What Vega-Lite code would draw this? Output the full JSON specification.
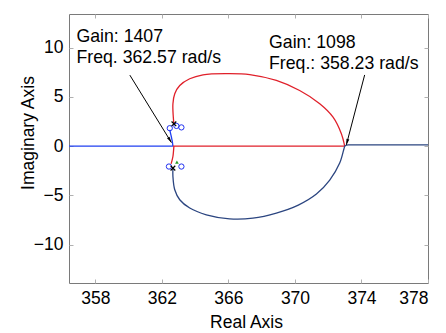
{
  "$schema": "https://vega.github.io/schema/vega-lite/v6.json",
  "width": 359,
  "height": 269,
  "autosize": "none",
  "padding": {"left": 69, "top": 14, "right": 18, "bottom": 50},
  "background": "white",
  "config": {
    "view": {"stroke": "#7a7a7a", "strokeWidth": 1},
    "font": "Liberation Sans"
  },
  "datasets": {
    "locus": [
      {"branch": "b1", "i": 0, "x": 356.41, "y": 0},
      {"branch": "b1", "i": 1, "x": 362.66, "y": 0},

      {"branch": "b2", "i": 0, "x": 362.66, "y": 0},
      {"branch": "b2", "i": 1, "x": 362.62, "y": 0.5},
      {"branch": "b2", "i": 2, "x": 362.57, "y": 0.9},
      {"branch": "b2", "i": 3, "x": 362.51, "y": 1.35},
      {"branch": "b2", "i": 4, "x": 362.47, "y": 1.65},

      {"branch": "r1", "i": 0, "x": 362.66, "y": 0},
      {"branch": "r1", "i": 1, "x": 372.99, "y": 0},

      {"branch": "r2", "i": 0, "x": 362.72, "y": 0},
      {"branch": "r2", "i": 1, "x": 362.69, "y": -0.6},
      {"branch": "r2", "i": 2, "x": 362.66, "y": -1.05},
      {"branch": "r2", "i": 3, "x": 362.6, "y": -1.5},
      {"branch": "r2", "i": 4, "x": 362.55, "y": -1.8},

      {"branch": "r3", "i": 0, "x": 362.72, "y": 2.26},
      {"branch": "r3", "i": 1, "x": 362.68, "y": 3.0},
      {"branch": "r3", "i": 2, "x": 362.66, "y": 4.3},
      {"branch": "r3", "i": 3, "x": 362.77, "y": 5.31},
      {"branch": "r3", "i": 4, "x": 363.07, "y": 6.15},
      {"branch": "r3", "i": 5, "x": 363.67, "y": 6.83},
      {"branch": "r3", "i": 6, "x": 364.47, "y": 7.23},
      {"branch": "r3", "i": 7, "x": 365.87, "y": 7.35},
      {"branch": "r3", "i": 8, "x": 367.28, "y": 7.26},
      {"branch": "r3", "i": 9, "x": 368.88, "y": 6.66},
      {"branch": "r3", "i": 10, "x": 370.28, "y": 5.64},
      {"branch": "r3", "i": 11, "x": 371.49, "y": 4.3},
      {"branch": "r3", "i": 12, "x": 372.29, "y": 2.94},
      {"branch": "r3", "i": 13, "x": 372.79, "y": 1.26},
      {"branch": "r3", "i": 14, "x": 372.99, "y": 0},

      {"branch": "n1", "i": 0, "x": 362.66, "y": -2.23},
      {"branch": "n1", "i": 1, "x": 362.66, "y": -3.08},
      {"branch": "n1", "i": 2, "x": 362.77, "y": -4.43},
      {"branch": "n1", "i": 3, "x": 363.07, "y": -5.44},
      {"branch": "n1", "i": 4, "x": 363.67, "y": -6.28},
      {"branch": "n1", "i": 5, "x": 364.67, "y": -6.96},
      {"branch": "n1", "i": 6, "x": 366.07, "y": -7.37},
      {"branch": "n1", "i": 7, "x": 367.47, "y": -7.3},
      {"branch": "n1", "i": 8, "x": 368.88, "y": -6.79},
      {"branch": "n1", "i": 9, "x": 370.2, "y": -5.98},
      {"branch": "n1", "i": 10, "x": 371.29, "y": -4.86},
      {"branch": "n1", "i": 11, "x": 372.09, "y": -3.45},
      {"branch": "n1", "i": 12, "x": 372.69, "y": -1.72},
      {"branch": "n1", "i": 13, "x": 372.93, "y": -0.37},
      {"branch": "n1", "i": 14, "x": 372.99, "y": 0},

      {"branch": "n2", "i": 0, "x": 372.99, "y": 0},
      {"branch": "n2", "i": 1, "x": 373.1, "y": 0.1},
      {"branch": "n2", "i": 2, "x": 373.25, "y": 0.12},
      {"branch": "n2", "i": 3, "x": 373.6, "y": 0.12},
      {"branch": "n2", "i": 4, "x": 378, "y": 0.12}
    ],
    "zeros": [
      {"x": 362.47, "y": 1.82},
      {"x": 362.87, "y": 2.05},
      {"x": 363.17, "y": 1.9},
      {"x": 362.42, "y": -2.07},
      {"x": 363.17, "y": -2.07}
    ],
    "poles": [
      {"x": 362.72, "y": 2.26},
      {"x": 362.66, "y": -2.23}
    ],
    "marks": [
      {"x": 362.9, "y": -1.62}
    ],
    "notes": [
      {"x": 356.86, "y": 10.6, "text": "Gain: 1407"},
      {"x": 356.86, "y": 8.41, "text": "Freq. 362.57 rad/s"},
      {"x": 368.44, "y": 9.93, "text": "Gain: 1098"},
      {"x": 368.44, "y": 7.8, "text": "Freq.: 358.23 rad/s"}
    ],
    "arrows": [
      {"id": "left", "x": 360.07, "y": 7.2, "x2": 362.57, "y2": 0.36},
      {"id": "right", "x": 374.19, "y": 7.22, "x2": 373.09, "y2": 0.13}
    ]
  },
  "resolve": {"axis": {"x": "independent", "y": "independent"}},
  "layer": [
    {
      "data": {"name": "locus"},
      "mark": {"type": "line", "strokeWidth": 1.3, "clip": true, "interpolate": "catmull-rom"},
      "encoding": {
        "x": {
          "field": "x", "type": "quantitative",
          "scale": {"domain": [356.41, 378], "nice": false, "zero": false},
          "axis": {
            "orient": "bottom",
            "values": [358, 362, 366, 370, 374, 378],
            "domain": false, "grid": false,
            "tickSize": -4, "tickColor": "#b0b0b0", "tickWidth": 1,
            "labelPadding": 10, "labelFontSize": 17.5, "labelColor": "#000",
            "labelFont": "Liberation Sans",
            "title": "Real Axis", "titleFontSize": 17.5, "titleFontWeight": "normal",
            "titleColor": "#000", "titleFont": "Liberation Sans",
            "titleX": 177, "titleY": 44, "titleBaseline": "alphabetic", "titleAlign": "center"
          }
        },
        "y": {
          "field": "y", "type": "quantitative",
          "scale": {"domain": [-13.88, 13.4], "nice": false, "zero": false},
          "axis": {
            "orient": "left",
            "values": [-10, -5, 0, 5, 10],
            "domain": false, "grid": false,
            "tickSize": -4, "tickColor": "#b0b0b0", "tickWidth": 1,
            "labelPadding": 10, "labelFontSize": 17.5, "labelColor": "#000",
            "labelFont": "Liberation Sans",
            "title": "Imaginary Axis", "titleFontSize": 17.5, "titleFontWeight": "normal",
            "titleColor": "#000", "titleFont": "Liberation Sans",
            "titleAngle": -90, "titleX": -36, "titleY": 118.5,
            "titleBaseline": "alphabetic", "titleAlign": "center"
          }
        },
        "order": {"field": "i", "type": "quantitative"},
        "color": {
          "field": "branch", "type": "nominal", "legend": null,
          "scale": {
            "domain": ["b1", "b2", "r1", "r2", "r3", "n1", "n2"],
            "range": ["#1f3ff0", "#1f3ff0", "#e0202a", "#e0202a", "#e0202a", "#2b4580", "#2b4580"]
          }
        }
      }
    },
    {
      "data": {"name": "arrows"},
      "mark": {"type": "rule", "color": "#000", "strokeWidth": 1},
      "encoding": {
        "x": {
          "field": "x", "type": "quantitative",
          "axis": {
            "orient": "top", "values": [358, 362, 366, 370, 374, 378],
            "labels": false, "domain": false, "grid": false, "title": null,
            "tickSize": -4, "tickColor": "#b0b0b0"
          }
        },
        "y": {
          "field": "y", "type": "quantitative",
          "axis": {
            "orient": "right", "values": [-10, -5, 0, 5, 10],
            "labels": false, "domain": false, "grid": false, "title": null,
            "tickSize": -4, "tickColor": "#b0b0b0"
          }
        },
        "x2": {"field": "x2"},
        "y2": {"field": "y2"}
      }
    },
    {
      "data": {"name": "arrows"},
      "transform": [{"filter": "datum.id === 'left'"}],
      "mark": {"type": "point", "shape": "M0,0L0.55,2.2L-0.55,2.2Z", "filled": true, "color": "#000", "size": 30, "opacity": 1, "angle": 148.4},
      "encoding": {
        "x": {"field": "x2", "type": "quantitative", "axis": null},
        "y": {"field": "y2", "type": "quantitative", "axis": null}
      }
    },
    {
      "data": {"name": "arrows"},
      "transform": [{"filter": "datum.id === 'right'"}],
      "mark": {"type": "point", "shape": "M0,0L0.55,2.2L-0.55,2.2Z", "filled": true, "color": "#000", "size": 30, "opacity": 1, "angle": 194.7},
      "encoding": {
        "x": {"field": "x2", "type": "quantitative", "axis": null},
        "y": {"field": "y2", "type": "quantitative", "axis": null}
      }
    },
    {
      "data": {"name": "zeros"},
      "mark": {"type": "point", "shape": "circle", "filled": false, "color": "#2030f0", "strokeWidth": 1, "size": 28, "opacity": 1},
      "encoding": {
        "x": {"field": "x", "type": "quantitative", "axis": null},
        "y": {"field": "y", "type": "quantitative", "axis": null}
      }
    },
    {
      "data": {"name": "marks"},
      "mark": {"type": "point", "shape": "triangle-up", "filled": true, "color": "#2a9a2a", "size": 14, "opacity": 1},
      "encoding": {
        "x": {"field": "x", "type": "quantitative", "axis": null},
        "y": {"field": "y", "type": "quantitative", "axis": null}
      }
    },
    {
      "data": {"name": "poles"},
      "mark": {"type": "point", "shape": "M-1,-1L1,1M-1,1L1,-1", "filled": false, "color": "#000", "strokeWidth": 1.2, "size": 22, "opacity": 1},
      "encoding": {
        "x": {"field": "x", "type": "quantitative", "axis": null},
        "y": {"field": "y", "type": "quantitative", "axis": null}
      }
    },
    {
      "data": {"name": "notes"},
      "mark": {"type": "text", "align": "left", "baseline": "alphabetic", "font": "Liberation Sans", "fontSize": 17.7, "color": "#000"},
      "encoding": {
        "x": {"field": "x", "type": "quantitative", "axis": null},
        "y": {"field": "y", "type": "quantitative", "axis": null},
        "text": {"field": "text"}
      }
    }
  ]
}
